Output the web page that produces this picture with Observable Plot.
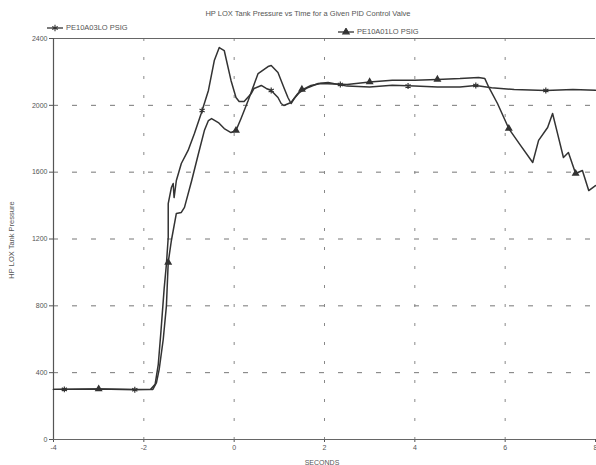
<!DOCTYPE html>
<html><head><meta charset="utf-8">
<script src="https://cdn.jsdelivr.net/npm/d3@7"></script>
<script src="https://cdn.jsdelivr.net/npm/@observablehq/plot@0.6"></script>
<style>
body{margin:0;background:#fff;font-family:Arial,"Liberation Sans",sans-serif;}
#wrap{position:relative;width:596px;height:465px;overflow:hidden;}
#chart{position:absolute;left:0;top:0;}
.t{position:absolute;color:#555;white-space:nowrap;line-height:1;}
.leg{position:absolute;display:flex;align-items:center;color:#555;font-size:7.5px;white-space:nowrap;}
.leg svg{margin-right:3px;}
</style></head><body>
<div id="wrap">
<div id="chart"></div>
<div class="t" style="left:0;width:616px;text-align:center;top:10px;font-size:7.5px">HP LOX Tank Pressure vs Time for a Given PID Control Valve</div>
<div class="leg" id="legA" style="left:47px;top:23px"></div>
<div class="leg" id="legB" style="left:338px;top:27px"></div>
<div class="t" style="left:12px;top:240px;font-size:7.5px;transform:translate(-50%,-50%) rotate(-90deg)">HP LOX Tank Pressure</div>
<div class="t" style="left:322px;top:459px;font-size:7px;transform:translateX(-50%)">SECONDS</div>
</div>
<script>
const seriesNames = ["PE10A03LO PSIG", "PE10A01LO PSIG"];
const xTicks = [-4, -2, 0, 2, 4, 6, 8];
const yTicks = [0, 400, 800, 1200, 1600, 2000, 2400];

const timeA = [-4,-3,-2.2,-1.85,-1.75,-1.68,-1.62,-1.55,-1.5,-1.46,-1.46,-1.39,-1.35,-1.33,-1.28,-1.17,-1.02,-0.88,-0.73,-0.57,-0.44,-0.33,-0.22,-0.07,0.04,0.11,0.22,0.38,0.44,0.6,0.71,0.82,0.97,1.04,1.1,1.26,1.41,1.64,1.86,2.08,2.5,3.0,3.5,4.0,4.5,5.0,5.35,5.7,6.2,6.9,7.5,8];
const psigA = [300,302,298,300,330,450,650,903,1050,1209,1412,1508,1532,1448,1550,1652,1730,1831,1951,2089,2268,2346,2328,2149,2047,2023,2023,2071,2101,2119,2101,2089,2047,2011,1999,2017,2071,2107,2131,2137,2115,2110,2120,2115,2110,2110,2119,2105,2095,2089,2095,2090];

const timeB = [-4,-3,-2.2,-1.8,-1.72,-1.66,-1.57,-1.5,-1.46,-1.39,-1.28,-1.17,-1.1,-0.94,-0.79,-0.66,-0.57,-0.5,-0.35,-0.22,-0.07,0.04,0.15,0.31,0.53,0.75,0.82,0.97,1.1,1.19,1.26,1.33,1.48,1.7,1.92,2.5,3.0,3.5,4.0,4.5,5.0,5.41,5.55,5.64,5.83,6.08,6.34,6.61,6.74,6.94,7.05,7.16,7.29,7.4,7.56,7.71,7.85,8];
const psigB = [300,302,300,300,340,420,600,800,1060,1191,1353,1359,1389,1550,1712,1849,1909,1921,1897,1861,1837,1849,1920,2029,2190,2232,2238,2196,2107,2047,2011,2041,2089,2119,2131,2125,2140,2150,2150,2155,2160,2167,2160,2107,2011,1861,1760,1658,1790,1867,1951,1831,1688,1718,1592,1610,1490,1520];

const markTimeA = [-3.76,-2.2,-0.71,0.82,2.35,3.85,5.35,6.9];
const markPsigA = [300,298,1969,2089,2125,2115,2119,2089];
const markTimeB = [-3.0,-1.46,0.04,1.5,3.0,4.5,6.08,7.56];
const markPsigB = [302,1060,1849,2095,2140,2155,1861,1592];

const A = timeA.map((t,i)=>({t, p: psigA[i]}));
const B = timeB.map((t,i)=>({t, p: psigB[i]}));
const MA = markTimeA.map((t,i)=>({t, p: markPsigA[i]}));
const MB = markTimeB.map((t,i)=>({t, p: markPsigB[i]}));

const lineColor = "#333";

const chart = Plot.plot({
  width: 596, height: 465,
  marginTop: 38, marginBottom: 26, marginLeft: 53, marginRight: 1,
  style: {fontFamily: "Arial, 'Liberation Sans', sans-serif", fontSize: "7px", color: "#555", background: "transparent"},
  x: {domain: [-4, 8], ticks: xTicks, tickSize: 3, tickPadding: 3, tickFormat: d => String(d), label: null},
  y: {domain: [0, 2400], ticks: yTicks, tickSize: 4, tickPadding: 2, tickFormat: d => String(d), label: null},
  marks: [
    Plot.ruleY(yTicks.filter(d => d > 0 && d < 2400), {stroke: "#777", strokeDasharray: "5,14", strokeWidth: 1}),
    Plot.ruleX(xTicks.filter(d => d > -4 && d < 8), {stroke: "#888", strokeDasharray: "3,16", strokeWidth: 1}),
    Plot.ruleY([0, 2400], {stroke: "#666", strokeWidth: 1.2}),
    Plot.ruleX([-4], {stroke: "#555", strokeWidth: 1.2}),
    Plot.line(A, {x: "t", y: "p", stroke: lineColor, strokeWidth: 1.5}),
    Plot.line(B, {x: "t", y: "p", stroke: lineColor, strokeWidth: 1.5}),
    Plot.dot(MA, {x: "t", y: "p", symbol: "asterisk", r: 2.8, stroke: lineColor, strokeWidth: 1.2}),
    Plot.dot(MB, {x: "t", y: "p", symbol: "triangle", r: 2, fill: lineColor, stroke: lineColor})
  ]
});
document.getElementById("chart").append(chart);

function legendItem(id, symbolType, name, filled) {
  const el = document.getElementById(id);
  const svg = d3.create("svg").attr("width", 16).attr("height", 8);
  svg.append("line").attr("x1", 0).attr("x2", 16).attr("y1", 4).attr("y2", 4).attr("stroke", lineColor).attr("stroke-width", 1.3);
  svg.append("path").attr("transform", "translate(8,4)")
    .attr("d", d3.symbol(symbolType, filled ? 18 : 28)())
    .attr("fill", filled ? lineColor : "none").attr("stroke", lineColor).attr("stroke-width", 1.1);
  el.append(svg.node());
  const s = document.createElement("span");
  s.textContent = name;
  el.append(s);
}
legendItem("legA", d3.symbolAsterisk, seriesNames[0], false);
legendItem("legB", d3.symbolTriangle, seriesNames[1], true);
</script>
</body></html>
